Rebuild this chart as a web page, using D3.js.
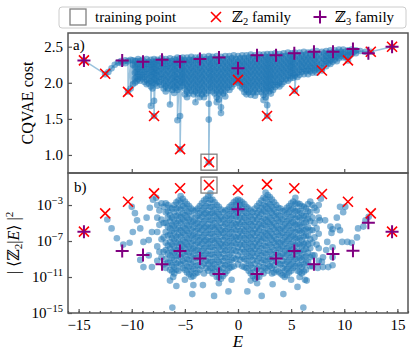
<!DOCTYPE html>
<meta charset="utf-8">
<style>
  body { margin: 0; background: #fff; }
  svg text { font-family: 'Liberation Serif', 'DejaVu Serif', serif; fill: #000; }
</style>
<body>
<script src="https://cdn.jsdelivr.net/npm/d3@7"></script>
<script>
var width = 415, height = 358;

// ---- data ----
// panel a: blue CQVAE cost points, grouped by energy column [E, [cost...]]
var costCols = [
  [-14.5, [2.31]], [-12.5, [2.12]], [-12.2, [2.15]], [-11.9, [2.2]], [-11.6, [2.25]],
  [-11.3, [2.28]], [-11.0, [2.30, 2.27]], [-10.6, [2.31, 2.27]], [-10.35, [2.3, 1.88]],
  [-10.1, [2.32, 1.92]], [-9.9, [2.31, 2.25, 1.98]], [-9.7, [2.3, 2.22, 2.14, 2.06, 2.0]],
  [-9.4, [2.33, 2.26, 2.19, 2.12, 2.05]], [-9.0, [2.32, 2.25, 2.18, 2.11, 2.06]],
  [-8.6, [2.33, 2.26, 2.19, 2.12, 2.04, 1.98]], [-8.2, [2.32, 2.25, 2.18, 2.1, 2.02, 1.95, 1.68]],
  [-7.9, [2.33, 2.26, 2.19, 2.12, 2.04, 1.75, 1.54]], [-7.6, [2.32, 2.25, 2.17, 2.1, 2.02, 1.96]],
  [-7.2, [2.34, 2.27, 2.2, 2.12, 2.05, 1.97]], [-6.8, [2.33, 2.26, 2.19, 2.11, 2.03, 1.95, 1.88]],
  [-6.4, [2.34, 2.27, 2.2, 2.12, 2.04, 1.96, 1.7]], [-6.0, [2.33, 2.26, 2.18, 2.1, 2.02, 1.94, 1.86]],
  [-5.7, [2.35, 2.28, 2.2, 2.12, 2.05, 1.97, 1.9, 1.48]], [-5.45, [2.34, 2.26, 2.18, 2.1, 2.02, 1.94, 1.54, 1.08]],
  [-5.2, [2.35, 2.28, 2.2, 2.12, 2.04, 1.96]], [-4.8, [2.35, 2.28, 2.2, 2.12, 2.04, 1.96, 1.88, 1.8]],
  [-4.4, [2.36, 2.29, 2.21, 2.13, 2.05, 1.97, 1.89]], [-4.0, [2.35, 2.28, 2.2, 2.12, 2.04, 1.96, 1.88, 1.73]],
  [-3.6, [2.36, 2.29, 2.21, 2.13, 2.05, 1.97, 1.89, 1.8]], [-3.2, [2.36, 2.28, 2.2, 2.12, 2.04, 1.96, 1.88, 1.8]],
  [-2.75, [2.37, 2.29, 2.21, 2.13, 2.05, 1.97, 1.89, 1.71, 1.49, 0.9]], [-2.4, [2.36, 2.28, 2.2, 2.12, 2.04, 1.96, 1.88]],
  [-2.0, [2.37, 2.29, 2.21, 2.13, 2.05, 1.97, 1.89, 1.8, 1.73]], [-1.6, [2.36, 2.28, 2.2, 2.12, 2.04, 1.96, 1.88, 1.66, 1.58]],
  [-1.2, [2.37, 2.29, 2.21, 2.13, 2.05, 1.97, 1.89, 1.81]], [-0.8, [2.37, 2.29, 2.21, 2.13, 2.05, 1.97, 1.9]],
  [-0.4, [2.38, 2.3, 2.22, 2.14, 2.06, 1.98]], [0.0, [2.37, 2.29, 2.21, 2.13, 2.05, 2.0]],
  [0.4, [2.38, 2.3, 2.22, 2.14, 2.06, 1.98, 1.92]], [0.8, [2.38, 2.3, 2.22, 2.14, 2.06, 1.98, 1.9, 1.84]],
  [1.2, [2.39, 2.31, 2.23, 2.15, 2.07, 1.99, 1.91, 1.83]], [1.6, [2.38, 2.3, 2.22, 2.14, 2.06, 1.98, 1.9, 1.82]],
  [2.0, [2.39, 2.31, 2.23, 2.15, 2.07, 1.99, 1.91]], [2.4, [2.39, 2.31, 2.23, 2.15, 2.07, 1.99, 1.91, 1.83, 1.76]],
  [2.75, [2.4, 2.32, 2.24, 2.16, 2.08, 2.0, 1.92, 1.69, 1.54]], [3.1, [2.4, 2.32, 2.24, 2.16, 2.08, 2.0, 1.92, 1.85]],
  [3.5, [2.41, 2.33, 2.25, 2.17, 2.09, 2.01, 1.94]], [3.9, [2.4, 2.32, 2.24, 2.16, 2.08, 2.0, 1.95]],
  [4.3, [2.41, 2.33, 2.25, 2.17, 2.09, 2.01]], [4.7, [2.42, 2.34, 2.26, 2.18, 2.1, 2.03]],
  [5.05, [2.41, 2.33, 2.25, 2.17, 2.09]], [5.35, [2.42, 2.34, 2.26, 2.18, 2.1, 1.89]],
  [5.8, [2.42, 2.34, 2.26, 2.18, 2.11]], [6.2, [2.43, 2.35, 2.27, 2.19, 2.12]],
  [6.6, [2.42, 2.34, 2.26, 2.18, 2.12]], [7.0, [2.43, 2.35, 2.27, 2.2, 2.14]],
  [7.4, [2.44, 2.36, 2.28, 2.2, 2.14]], [7.9, [2.43, 2.35, 2.27, 2.2, 2.17]],
  [8.3, [2.44, 2.37, 2.3, 2.23]], [8.7, [2.45, 2.38, 2.31, 2.26]], [9.1, [2.45, 2.38, 2.32]],
  [9.5, [2.46, 2.4, 2.34]], [9.9, [2.46, 2.4, 2.35]], [10.35, [2.45, 2.38, 2.31]],
  [10.7, [2.46, 2.4]], [11.1, [2.45, 2.41]], [11.5, [2.44]], [12.0, [2.43]], [12.5, [2.43]], [14.5, [2.5]]
];

// panel a: further points in the dense band, between the columns above
var costColsFill = [
  [-9.55, [2.3, 2.22, 2.15, 2.08, 2.02]], [-9.2, [2.3, 2.22, 2.15, 2.08, 2.03]],
  [-8.8, [2.29, 2.22, 2.15, 2.08, 2.01]], [-8.4, [2.29, 2.22, 2.14, 2.06, 1.99]],
  [-8.05, [2.29, 2.22, 2.15, 2.08, 2.0, 1.92]], [-7.75, [2.29, 2.21, 2.14, 2.06, 1.99]],
  [-7.4, [2.3, 2.23, 2.16, 2.08, 2.01]], [-7.0, [2.3, 2.23, 2.15, 2.07, 1.99, 1.92]],
  [-6.6, [2.3, 2.23, 2.16, 2.08, 2.0, 1.92]], [-6.2, [2.3, 2.22, 2.14, 2.06, 1.98, 1.9]],
  [-5.85, [2.31, 2.24, 2.16, 2.08, 2.01, 1.93]], [-5.3, [2.31, 2.24, 2.16, 2.08, 2.0]],
  [-5.0, [2.31, 2.24, 2.16, 2.08, 2.0, 1.92, 1.84]], [-4.6, [2.32, 2.25, 2.17, 2.09, 2.01, 1.93, 1.85]],
  [-4.2, [2.32, 2.24, 2.16, 2.08, 2.0, 1.92, 1.84]], [-3.8, [2.32, 2.25, 2.17, 2.09, 2.01, 1.93, 1.85]],
  [-3.4, [2.32, 2.24, 2.16, 2.08, 2.0, 1.92, 1.84]], [-3.0, [2.33, 2.25, 2.17, 2.09, 2.01, 1.93, 1.85]],
  [-2.6, [2.33, 2.25, 2.17, 2.09, 2.01, 1.93]], [-2.2, [2.33, 2.25, 2.17, 2.09, 2.01, 1.93, 1.85]],
  [-1.8, [2.33, 2.25, 2.17, 2.09, 2.01, 1.93, 1.85, 1.77]], [-1.4, [2.33, 2.25, 2.17, 2.09, 2.01, 1.93, 1.85]],
  [-1.0, [2.33, 2.25, 2.17, 2.09, 2.01, 1.93]], [-0.6, [2.34, 2.26, 2.18, 2.1, 2.02, 1.94]],
  [-0.2, [2.33, 2.25, 2.17, 2.09, 2.02]], [0.2, [2.34, 2.26, 2.18, 2.1, 2.02, 1.95]],
  [0.6, [2.34, 2.26, 2.18, 2.1, 2.02, 1.94, 1.87]], [1.0, [2.35, 2.27, 2.19, 2.11, 2.03, 1.95, 1.87]],
  [1.4, [2.35, 2.27, 2.19, 2.11, 2.03, 1.95, 1.87]], [1.8, [2.35, 2.27, 2.19, 2.11, 2.03, 1.95, 1.87]],
  [2.2, [2.35, 2.27, 2.19, 2.11, 2.03, 1.95, 1.87]], [2.6, [2.36, 2.28, 2.2, 2.12, 2.04, 1.96, 1.88, 1.8]],
  [2.95, [2.36, 2.28, 2.2, 2.12, 2.04, 1.96, 1.88]], [3.3, [2.36, 2.28, 2.2, 2.12, 2.04, 1.97, 1.9]],
  [3.7, [2.36, 2.28, 2.2, 2.12, 2.04, 1.97]], [4.1, [2.37, 2.29, 2.21, 2.13, 2.05, 1.98]],
  [4.5, [2.37, 2.29, 2.21, 2.13, 2.05]], [4.9, [2.38, 2.3, 2.22, 2.14, 2.06]],
  [5.2, [2.37, 2.29, 2.21, 2.13, 2.07]], [5.6, [2.38, 2.3, 2.22, 2.14, 2.08]],
  [6.0, [2.38, 2.3, 2.22, 2.15]], [6.4, [2.39, 2.31, 2.23, 2.16]], [6.8, [2.39, 2.31, 2.23, 2.16]],
  [7.2, [2.4, 2.32, 2.24, 2.17]], [7.6, [2.4, 2.32, 2.24, 2.18]], [8.1, [2.41, 2.33, 2.26]],
  [8.5, [2.41, 2.34, 2.27]], [8.9, [2.42, 2.35, 2.29]], [9.3, [2.42, 2.36, 2.3]],
  [9.7, [2.43, 2.37]], [10.1, [2.43, 2.36]], [10.5, [2.43, 2.37]], [10.9, [2.43]]
];

// panel b: blue overlap points, columns [E, [log10 |<Z2|E>|^2 ...]]
var overlapCols = [
  [-7.6, [-3.0, -4.4, -6.0, -7.6, -9.2]],
  [-7.2, [-2.8, -4.6, -6.8, -8.8]],
  [-6.8, [-2.8, -3.8, -5.0, -6.0, -7.2, -8.0, -9.0, -10.0]],
  [-6.4, [-3.3, -4.1, -4.8, -5.6, -6.3, -7.1, -7.8, -8.6, -9.4, -10.2]],
  [-6.0, [-3.0, -3.8, -4.6, -5.3, -6.1, -6.8, -7.6, -8.3, -9.1, -9.9, -10.6]],
  [-5.6, [-2.5, -3.3, -4.1, -4.8, -5.6, -6.3, -7.1, -7.8, -8.6, -9.4, -10.3]],
  [-5.2, [-2.3, -3.1, -3.9, -4.6, -5.4, -6.1, -6.9, -7.6, -8.4, -9.2, -10.0]],
  [-4.8, [-2.9, -3.7, -4.4, -5.2, -5.9, -6.7, -7.4, -8.2, -9.0, -9.8, -10.5]],
  [-4.4, [-3.4, -4.2, -4.9, -5.7, -6.4, -7.2, -7.9, -8.7, -9.5, -10.3, -11.0]],
  [-4.0, [-3.6, -4.4, -5.1, -5.9, -6.6, -7.4, -8.1, -8.9, -9.8, -10.6]],
  [-3.6, [-3.1, -3.9, -4.6, -5.4, -6.1, -6.9, -7.6, -8.4, -9.3, -10.2]],
  [-3.2, [-2.5, -3.3, -4.0, -4.8, -5.5, -6.3, -7.0, -7.8, -8.6, -9.5, -10.6]],
  [-2.8, [-2.0, -2.8, -3.6, -4.3, -5.1, -5.8, -6.6, -7.3, -8.1, -8.9, -9.6, -10.3]],
  [-2.4, [-2.4, -3.2, -3.9, -4.7, -5.4, -6.2, -6.9, -7.7, -8.5, -9.3, -10.0, -10.6]],
  [-2.0, [-3.0, -3.8, -4.5, -5.3, -6.0, -6.8, -7.5, -8.3, -9.1, -9.9, -11.0]],
  [-1.6, [-3.5, -4.3, -5.0, -5.8, -6.5, -7.3, -8.0, -8.8, -9.6, -10.4, -11.2]],
  [-1.2, [-3.6, -4.4, -5.1, -5.9, -6.6, -7.4, -8.1, -8.9, -9.7, -10.6]],
  [-0.8, [-3.2, -4.0, -4.7, -5.5, -6.2, -7.0, -7.7, -8.5, -9.3, -10.0]],
  [-0.4, [-2.7, -3.5, -4.2, -5.0, -5.7, -6.5, -7.2, -8.0, -8.9, -9.8]],
  [0.0, [-2.4, -3.2, -3.9, -4.7, -5.4, -6.2, -6.9, -7.7, -8.6, -9.6]],
  [0.4, [-2.7, -3.4, -4.2, -4.9, -5.7, -6.4, -7.2, -7.9, -8.8, -9.8]],
  [0.8, [-3.2, -3.9, -4.7, -5.4, -6.2, -6.9, -7.7, -8.4, -9.2, -10.0]],
  [1.2, [-3.6, -4.3, -5.1, -5.8, -6.6, -7.3, -8.1, -8.8, -9.7, -10.6]],
  [1.6, [-3.4, -4.2, -4.9, -5.7, -6.4, -7.2, -7.9, -8.7, -9.5, -10.4, -11.2]],
  [2.0, [-2.8, -3.6, -4.3, -5.1, -5.8, -6.6, -7.3, -8.1, -8.9, -9.8, -11.0]],
  [2.4, [-2.2, -3.0, -3.7, -4.5, -5.2, -6.0, -6.7, -7.5, -8.3, -9.1, -9.9, -10.6]],
  [2.8, [-1.9, -2.7, -3.4, -4.2, -4.9, -5.7, -6.4, -7.2, -8.0, -8.8, -9.6, -10.3]],
  [3.2, [-2.4, -3.2, -3.9, -4.7, -5.4, -6.2, -6.9, -7.7, -8.5, -9.3, -10.0, -10.6]],
  [3.6, [-3.0, -3.8, -4.5, -5.3, -6.0, -6.8, -7.5, -8.3, -9.2, -10.2]],
  [4.0, [-3.4, -4.2, -4.9, -5.7, -6.4, -7.2, -7.9, -8.7, -9.6, -10.6]],
  [4.4, [-3.6, -4.3, -5.1, -5.8, -6.6, -7.3, -8.1, -8.8, -9.6, -10.3, -11.0]],
  [4.8, [-3.1, -3.8, -4.6, -5.3, -6.1, -6.8, -7.6, -8.3, -9.1, -9.8, -10.5]],
  [5.2, [-2.6, -3.4, -4.1, -4.9, -5.6, -6.4, -7.1, -7.9, -8.6, -9.3, -10.0]],
  [5.6, [-2.8, -3.6, -4.3, -5.1, -5.8, -6.6, -7.3, -8.1, -8.8, -9.5, -10.3]],
  [6.0, [-3.1, -3.9, -4.6, -5.4, -6.1, -6.9, -7.6, -8.4, -9.1, -9.9, -10.6]],
  [6.4, [-3.4, -4.2, -4.9, -5.7, -6.4, -7.2, -7.9, -8.7, -9.4, -10.2]],
  [6.8, [-2.6, -3.8, -4.8, -5.8, -6.8, -7.8, -8.8, -9.8]],
  [7.2, [-3.3, -5.0, -6.6, -8.6]],
  [7.6, [-3.0, -4.4, -6.2, -7.8, -9.2]]
];

// panel b: further points in the dense cloud, between the columns above
var overlapColsFill = [
  [-7.4, [-3.6, -5.2, -8.2]],
  [-7.0, [-3.2, -5.0, -6.6, -8.2, -9.6]],
  [-6.6, [-3.0, -3.7, -4.4, -5.4, -6.4, -7.5, -8.4, -9.4]],
  [-6.2, [-3.4, -4.4, -5.2, -5.9, -6.7, -7.4, -8.2, -8.9, -9.7, -10.4]],
  [-5.8, [-2.7, -3.4, -4.2, -5.0, -5.7, -6.5, -7.2, -8.0, -8.7, -9.5, -10.2]],
  [-5.4, [-2.0, -2.7, -3.5, -4.3, -5.0, -5.8, -6.5, -7.3, -8.0, -8.8, -9.6]],
  [-5.0, [-2.6, -3.3, -4.1, -4.8, -5.6, -6.3, -7.1, -7.8, -8.6, -9.4, -10.2]],
  [-4.6, [-3.1, -3.8, -4.6, -5.3, -6.1, -6.8, -7.6, -8.3, -9.1, -9.9, -10.7]],
  [-4.2, [-3.6, -4.8, -5.5, -6.3, -7.0, -7.8, -8.5, -9.3, -10.1, -10.9]],
  [-3.8, [-3.4, -4.2, -5.0, -5.7, -6.5, -7.2, -8.0, -8.8, -9.7, -10.5]],
  [-3.4, [-2.8, -3.6, -4.3, -5.1, -5.8, -6.6, -7.3, -8.1, -8.9, -9.8]],
  [-3.0, [-2.3, -3.1, -3.9, -4.6, -5.4, -6.1, -6.9, -7.6, -8.4, -9.2, -10.0]],
  [-2.6, [-1.7, -2.4, -3.2, -4.0, -4.7, -5.5, -6.2, -7.0, -7.7, -8.5, -9.3, -10.0]],
  [-2.2, [-2.7, -3.5, -4.2, -5.0, -5.7, -6.5, -7.2, -8.0, -8.8, -9.6, -10.4]],
  [-1.8, [-3.2, -4.0, -4.7, -5.5, -6.2, -7.0, -7.7, -8.5, -9.3, -10.2, -11.0]],
  [-1.4, [-3.8, -4.6, -5.4, -6.1, -6.9, -7.6, -8.4, -9.2, -10.0, -10.9]],
  [-1.0, [-3.5, -4.2, -5.0, -5.7, -6.5, -7.2, -8.0, -8.8, -9.6, -10.3]],
  [-0.6, [-3.0, -3.7, -4.5, -5.2, -6.0, -6.7, -7.5, -8.3, -9.1, -9.9]],
  [-0.2, [-2.5, -3.0, -3.6, -4.3, -5.1, -5.8, -6.6, -7.3, -8.1, -9.0]],
  [0.2, [-2.5, -3.0, -3.6, -4.4, -5.1, -5.9, -6.6, -7.4, -8.2, -9.1]],
  [0.6, [-2.9, -3.7, -4.4, -5.2, -5.9, -6.7, -7.4, -8.2, -9.0, -9.9]],
  [1.0, [-3.4, -4.2, -4.9, -5.7, -6.4, -7.2, -7.9, -8.7, -9.5, -10.3]],
  [1.4, [-3.8, -4.6, -5.3, -6.1, -6.8, -7.6, -8.3, -9.1, -10.0, -10.9]],
  [1.8, [-3.1, -3.9, -4.6, -5.4, -6.1, -6.9, -7.6, -8.4, -9.2, -10.1, -11.0]],
  [2.2, [-2.5, -3.3, -4.0, -4.8, -5.5, -6.3, -7.0, -7.8, -8.6, -9.4, -10.3]],
  [2.6, [-1.6, -2.3, -3.1, -3.8, -4.6, -5.3, -6.1, -6.8, -7.6, -8.4, -9.2, -10.0]],
  [3.0, [-2.1, -2.9, -3.6, -4.4, -5.1, -5.9, -6.6, -7.4, -8.2, -9.0, -9.8]],
  [3.4, [-2.7, -3.5, -4.2, -5.0, -5.7, -6.5, -7.2, -8.0, -8.8, -9.7, -10.5]],
  [3.8, [-3.3, -4.1, -4.8, -5.6, -6.3, -7.1, -7.8, -8.6, -9.5, -10.4]],
  [4.2, [-3.7, -4.6, -5.4, -6.1, -6.9, -7.6, -8.4, -9.2, -10.0, -10.8]],
  [4.6, [-3.3, -4.0, -4.8, -5.5, -6.3, -7.0, -7.8, -8.5, -9.3, -10.1, -10.8]],
  [5.0, [-2.8, -3.5, -4.3, -5.0, -5.8, -6.5, -7.3, -8.0, -8.8, -9.6, -10.3]],
  [5.4, [-2.2, -2.9, -3.7, -4.5, -5.2, -6.0, -6.7, -7.5, -8.2, -9.0, -9.8]],
  [5.8, [-2.9, -3.7, -4.4, -5.2, -5.9, -6.7, -7.4, -8.2, -8.9, -9.7, -10.4]],
  [6.2, [-3.2, -4.2, -5.0, -5.8, -6.5, -7.3, -8.0, -8.8, -9.6, -10.4]],
  [6.6, [-2.9, -3.7, -4.5, -5.5, -6.4, -7.4, -8.3, -9.3]],
  [7.0, [-3.0, -4.4, -5.8, -7.2, -8.6, -9.8]],
  [7.4, [-3.6, -5.6, -7.4]]
];

// panel b: scattered points outside the dense cloud [E, log10 value]
var overlapSparse = [
  [-12.3, -4.6], [-11.9, -5.6], [-11.4, -6.7], [-10.8, -7.4], [-10.2, -7.2], [-9.9, -6.0],
  [-9.5, -4.7], [-9.7, -3.9], [-10.0, -3.2], [-9.2, -5.6], [-8.9, -7.1], [-8.4, -6.9],
  [-9.2, -9.1], [-8.9, -9.9], [-8.1, -9.9], [-8.4, -8.6], [-8.1, -6.0], [-8.0, -2.4],
  [-8.3, -3.3], [-8.6, -4.4], [-7.7, -2.2], [-6.4, -11.4], [-6.1, -11.0], [-5.8, -12.0],
  [-4.3, -12.9], [-4.2, -11.9], [-3.3, -11.9], [-2.25, -13.1], [-0.9, -12.6], [-0.6, -11.3],
  [-6.18, -14.4], [-5.0, -11.3], [-1.8, -11.7],
  [12.3, -4.3], [12.0, -4.7], [11.8, -5.4], [11.3, -5.6], [11.2, -6.6], [10.7, -7.2],
  [10.3, -7.1], [9.8, -7.1], [9.6, -5.8], [9.4, -5.4], [8.9, -5.7], [8.7, -5.4], [8.2, -4.7],
  [7.7, -4.7], [9.3, -4.4], [9.9, -3.8], [10.1, -3.2], [9.6, -3.2], [8.8, -6.1], [8.4, -7.1],
  [8.3, -8.0], [8.0, -8.8], [8.0, -9.9], [8.5, -9.9], [8.9, -9.7], [8.9, -7.7], [8.9, -8.8],
  [7.9, -9.3], [7.5, -10.0], [7.8, -2.3], [5.8, -11.0], [6.3, -11.3], [5.6, -12.1],
  [6.46, -11.4], [4.27, -12.9], [3.26, -11.8], [2.23, -13.1], [0.88, -12.6], [1.2, -11.4],
  [6.15, -14.4], [5.0, -11.3], [1.8, -11.7]
];

// Z2 family (red crosses)
var z2E = [-14.5, -12.5, -10.35, -7.9, -5.45, -2.73, 0, 2.73, 5.3, 7.9, 10.35, 12.5, 14.5];
var z2Cost = [2.31, 2.125, 1.875, 1.54, 1.08, 0.90, 2.04, 1.54, 1.89, 2.17, 2.31, 2.43, 2.50];
var z2Overlap = [-5.96, -3.93, -2.63, -1.70, -1.14, -0.78, -1.33, -0.70, -1.14, -1.78, -2.63, -3.93, -5.96];

// Z3 family (purple plus)
var z3E = [-14.5, -10.9, -8.94, -7.15, -5.46, -3.58, -1.79, 0, 1.79, 3.58, 5.3, 7.15, 8.94, 10.82, 12.27, 14.5];
var z3Cost = [2.31, 2.31, 2.29, 2.32, 2.29, 2.33, 2.35, 2.20, 2.38, 2.38, 2.41, 2.43, 2.43, 2.47, 2.41, 2.50];
var z3Overlap = [-5.96, -8.11, -8.56, -9.59, -8.11, -8.93, -10.67, -3.48, -10.67, -8.93, -8.11, -9.59, -8.44, -8.08, -4.97, -5.96];

// training point
var trainE = -2.73, trainCost = 0.90, trainOverlap = -0.78;

var xMajor = [-15, -10, -5, 0, 5, 10, 15];
var xTopTicks = [-10, 0, 10];
var costTicks = [1.0, 1.5, 2.0, 2.5];
var overlapTicks = [-15, -11, -7, -3];

// ---- layout ----
var L = 68, R = 408, T = 33, M = 173, B = 313;
var blue = "#1f77b4", frameCol = "#555";

var x = d3.scaleLinear().domain([-16, 16]).range([L, R]);
var yA = d3.scaleLinear().domain([0.75, 2.69]).range([M, T]);
var yB = d3.scaleLog().domain([1e-15, Math.pow(10, 0.56)]).range([B, M]);

var svg = d3.select("body").append("svg")
  .attr("width", width)
  .attr("height", height);

var pow = function(v) { return Math.pow(10, v); };

function flatten(cols) {
  var out = [];
  cols.forEach(function(c) { c[1].forEach(function(v) { out.push([c[0], v]); }); });
  return out;
}
// the cost curve is drawn in order of energy
var costPts = flatten(costCols).concat(flatten(costColsFill));
costPts.sort(function(a, b) { return a[0] - b[0]; });
var overlapPts = flatten(overlapCols).concat(flatten(overlapColsFill), overlapSparse);

// clip paths for the two panels
var defs = svg.append("defs");
defs.append("clipPath").attr("id", "clipA").append("rect")
  .attr("x", L).attr("y", T).attr("width", R - L).attr("height", M - T);
defs.append("clipPath").attr("id", "clipB").append("rect")
  .attr("x", L).attr("y", M).attr("width", R - L).attr("height", B - M);

function crossPath(s) { return "M" + (-s) + "," + (-s) + "L" + s + "," + s + "M" + (-s) + "," + s + "L" + s + "," + (-s); }
function plusPath(s) { return "M" + (-s) + ",0H" + s + "M0," + (-s) + "V" + s; }

/* panel a */
var gA = svg.append("g").attr("clip-path", "url(#clipA)");
gA.append("path")
  .datum(costPts)
  .attr("d", d3.line().x(function(d) { return x(d[0]); }).y(function(d) { return yA(d[1]); }))
  .attr("fill", "none")
  .attr("stroke", blue)
  .attr("stroke-opacity", 0.45)
  .attr("stroke-width", 1.5);
gA.selectAll("circle").data(costPts).enter().append("circle")
  .attr("cx", function(d) { return x(d[0]); })
  .attr("cy", function(d) { return yA(d[1]); })
  .attr("r", 3.3)
  .attr("fill", blue)
  .attr("fill-opacity", 0.55);

/* panel b */
var gB = svg.append("g").attr("clip-path", "url(#clipB)");
gB.selectAll("circle").data(overlapPts).enter().append("circle")
  .attr("cx", function(d) { return x(d[0]); })
  .attr("cy", function(d) { return yB(pow(d[1])); })
  .attr("r", 3.3)
  .attr("fill", blue)
  .attr("fill-opacity", 0.55);

// training point boxes
[yA(trainCost), yB(pow(trainOverlap))].forEach(function(yy) {
  svg.append("rect")
    .attr("x", x(trainE) - 8).attr("y", yy - 8)
    .attr("width", 16).attr("height", 16)
    .attr("fill", "none").attr("stroke", "#808080").attr("stroke-width", 1.3);
});

function drawFamily(g, es, ys, yf, path, col, sw) {
  g.selectAll(null).data(es).enter().append("path")
    .attr("transform", function(d, i) { return "translate(" + x(d) + "," + yf(ys[i]) + ")"; })
    .attr("d", path)
    .attr("fill", "none")
    .attr("stroke", col)
    .attr("stroke-width", sw);
}
var yBexp = function(v) { return yB(pow(v)); };
drawFamily(svg, z2E, z2Cost, yA, crossPath(5), "#ff0000", 1.6);
drawFamily(svg, z2E, z2Overlap, yBexp, crossPath(5), "#ff0000", 1.6);
drawFamily(svg, z3E, z3Cost, yA, plusPath(6.5), "#800080", 2);
drawFamily(svg, z3E, z3Overlap, yBexp, plusPath(6.5), "#800080", 2);

// ---- axes ----
function styleAxis(g) {
  g.select(".domain").remove();
  g.selectAll(".tick line").attr("stroke", frameCol).attr("stroke-width", 1.2);
  g.selectAll(".tick text").attr("font-size", "15px").attr("fill", "#000")
    .style("font-family", "'Liberation Serif', serif");
}

svg.append("g").attr("transform", "translate(" + L + ",0)")
  .call(d3.axisLeft(yA).tickValues(costTicks).tickSize(-4).tickPadding(5).tickFormat(d3.format(".1f")))
  .call(styleAxis);

svg.append("g").attr("transform", "translate(0," + M + ")")
  .call(d3.axisBottom(x).tickValues(xTopTicks).tickSize(-4).tickFormat(""))
  .call(styleAxis);

var axB = svg.append("g").attr("transform", "translate(" + L + ",0)")
  .call(d3.axisLeft(yB).tickValues(overlapTicks.map(pow)).tickSize(-4).tickPadding(5).tickFormat(""))
  .call(styleAxis);
axB.selectAll(".tick text").each(function(d) {
  var t = d3.select(this);
  t.append("tspan").text("10");
  t.append("tspan").attr("dy", -6).attr("font-size", "10.5px").text("\u2212" + Math.round(-Math.log10(d)));
});

svg.append("g").attr("transform", "translate(0," + B + ")")
  .call(d3.axisBottom(x).tickValues(d3.range(-16, 17)).tickSize(-2).tickFormat(""))
  .call(styleAxis);
svg.append("g").attr("transform", "translate(0," + B + ")")
  .call(d3.axisBottom(x).tickValues(xMajor).tickSize(-4).tickPadding(6).tickFormat(d3.format("d")))
  .call(styleAxis);

// frames
[[T, M], [M, B]].forEach(function(p) {
  svg.append("rect")
    .attr("x", L).attr("y", p[0]).attr("width", R - L).attr("height", p[1] - p[0])
    .attr("fill", "none").attr("stroke", frameCol).attr("stroke-width", 1.5);
});

// panel labels
svg.append("text").attr("x", L + 5).attr("y", T + 17).attr("font-size", "15px").text("a)");
svg.append("text").attr("x", L + 6).attr("y", M + 19).attr("font-size", "15px").text("b)");

// axis titles
svg.append("text")
  .attr("transform", "translate(33," + ((T + M) / 2) + ") rotate(-90)")
  .attr("text-anchor", "middle").attr("font-size", "16px")
  .text("CQVAE cost");

var yl = svg.append("text")
  .attr("transform", "translate(19," + ((M + B) / 2) + ") rotate(-90)")
  .attr("text-anchor", "middle").attr("font-size", "16px");
yl.append("tspan").text("| \u27E8\u2124");
yl.append("tspan").attr("dy", 3).attr("font-size", "11px").text("2");
yl.append("tspan").attr("dy", -3).text("|");
yl.append("tspan").attr("font-style", "italic").text("E");
yl.append("tspan").text("\u27E9 |");
yl.append("tspan").attr("dy", -6).attr("font-size", "11px").text("2");

svg.append("text")
  .attr("x", x(0)).attr("y", 347)
  .attr("text-anchor", "middle").attr("font-size", "17px").attr("font-style", "italic")
  .text("E");

// ---- legend ----
var lg = svg.append("g");
lg.append("rect").attr("x", 59).attr("y", 7).attr("width", 347).attr("height", 21).attr("rx", 3)
  .attr("fill", "#fff").attr("fill-opacity", 0.8).attr("stroke", "#ccc").attr("stroke-width", 1);
lg.append("rect").attr("x", 70).attr("y", 9).attr("width", 16).attr("height", 16)
  .attr("fill", "none").attr("stroke", "#808080").attr("stroke-width", 1.3);
lg.append("text").attr("x", 95).attr("y", 22).attr("font-size", "15px").text("training point");
lg.append("path").attr("transform", "translate(216,17)").attr("d", crossPath(5))
  .attr("stroke", "#ff0000").attr("stroke-width", 1.6);
var t2 = lg.append("text").attr("x", 232).attr("y", 22).attr("font-size", "15px");
t2.append("tspan").text("\u2124");
t2.append("tspan").attr("dy", 3).attr("font-size", "10.5px").text("2");
t2.append("tspan").attr("dy", -3).text(" family");
lg.append("path").attr("transform", "translate(320,17)").attr("d", plusPath(6.5))
  .attr("stroke", "#800080").attr("stroke-width", 2);
var t3 = lg.append("text").attr("x", 335).attr("y", 22).attr("font-size", "15px");
t3.append("tspan").text("\u2124");
t3.append("tspan").attr("dy", 3).attr("font-size", "10.5px").text("3");
t3.append("tspan").attr("dy", -3).text(" family");
</script>
</body>
